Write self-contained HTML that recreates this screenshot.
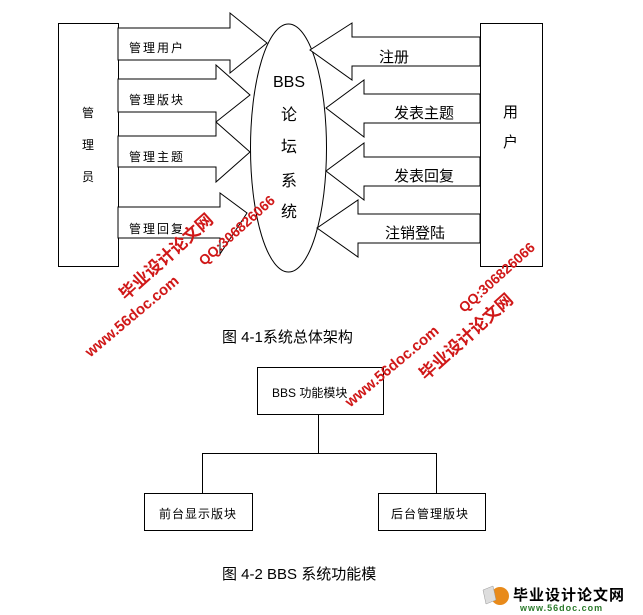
<!DOCTYPE html>
<html><head><meta charset="utf-8"><style>
html,body{margin:0;padding:0;background:#fff;}
svg{display:block;}
text{font-family:"Liberation Sans","Noto Sans CJK SC",sans-serif;fill:#000;}
.wm text{fill:#d01818;font-weight:bold;}
</style></head><body>
<svg width="643" height="615" viewBox="0 0 643 615" xmlns="http://www.w3.org/2000/svg">
<g fill="#fff" stroke="#000" stroke-width="1">
<rect x="58.5" y="23.5" width="60" height="243"/>
<rect x="480.5" y="23.5" width="62" height="243"/>
<ellipse cx="288.5" cy="148" rx="38" ry="124"/>
<!-- left arrows -->
<polygon points="118,28 230,28 230,13 267,43 230,73 230,60 118,60"/>
<polygon points="118,79 216,79 216,65 250,95 216,122 216,112 118,112"/>
<polygon points="118,136 216,136 216,122 250,152 216,182 216,167 118,167"/>
<polygon points="118,207 220,207 220,193 247,213 220,254 220,238 118,238"/>
<!-- right arrows -->
<polygon points="480,37 352,37 352,23 310,50 352,80 352,66 480,66"/>
<polygon points="480,94 364,94 364,80 326,108 364,137 364,123 480,123"/>
<polygon points="480,157 364,157 364,143 326,171 364,200 364,186 480,186"/>
<polygon points="480,214 358,214 358,200 317,228 358,257 358,243 480,243"/>
<!-- second diagram -->
<rect x="257.5" y="367.5" width="126" height="47"/>
<rect x="144.5" y="493.5" width="108" height="37"/>
<rect x="378.5" y="493.5" width="107" height="37"/>
</g>
<path d="M318.5 415V453.5M202.5 493V453.5H436.5V493" stroke="#000" fill="none"/>
<g font-size="16" text-anchor="middle">
<text x="289" y="87">BBS</text>
<text x="289" y="120">论</text>
<text x="289" y="152">坛</text>
<text x="289" y="186">系</text>
<text x="289" y="217">统</text>
</g>
<g font-size="12" letter-spacing="2">
<text x="129" y="52">管理用户</text>
<text x="129" y="104">管理版块</text>
<text x="129" y="161">管理主题</text>
<text x="129" y="233">管理回复</text>
</g>
<g font-size="12" text-anchor="middle">
<text x="88" y="117">管</text>
<text x="88" y="149">理</text>
<text x="88" y="181">员</text>
</g>
<g font-size="15">
<text x="379" y="62">注册</text>
<text x="394" y="118">发表主题</text>
<text x="394" y="181">发表回复</text>
<text x="385" y="238">注销登陆</text>
<text x="503" y="117">用</text>
<text x="503" y="147">户</text>
<text x="222" y="342">图 4-1系统总体架构</text>
<text x="222" y="579">图 4-2 BBS 系统功能模</text>
</g>
<g font-size="12">
<text x="272" y="397">BBS 功能模块</text>
<text x="159" y="518" letter-spacing="1">前台显示版块</text>
<text x="391" y="518" letter-spacing="1">后台管理版块</text>
</g>
<g class="wm" text-anchor="middle">
<text font-size="17" transform="translate(170,261) rotate(-42)">毕业设计论文网</text>
<text font-size="14" transform="translate(240,234) rotate(-42)">QQ:306826066</text>
<text font-size="15" transform="translate(135,320) rotate(-40)">www.56doc.com</text>
<text font-size="15" transform="translate(395,370) rotate(-40)">www.56doc.com</text>
<text font-size="17" transform="translate(470,341) rotate(-42)">毕业设计论文网</text>
<text font-size="14" transform="translate(500,281) rotate(-42)">QQ:306826066</text>
</g>
<circle cx="500" cy="596" r="9" fill="#e88a1a"/>
<path d="M483 590l10-4 3 14-10 4z" fill="#ddd" stroke="#999" stroke-width="0.5"/>
<text x="513" y="600" font-size="15" font-weight="bold" fill="#222" letter-spacing="1">毕业设计论文网</text>
<text x="520" y="611" font-size="9" font-weight="bold" style="fill:#2a7a2a" letter-spacing="1">www.56doc.com</text>
</svg>
</body></html>
